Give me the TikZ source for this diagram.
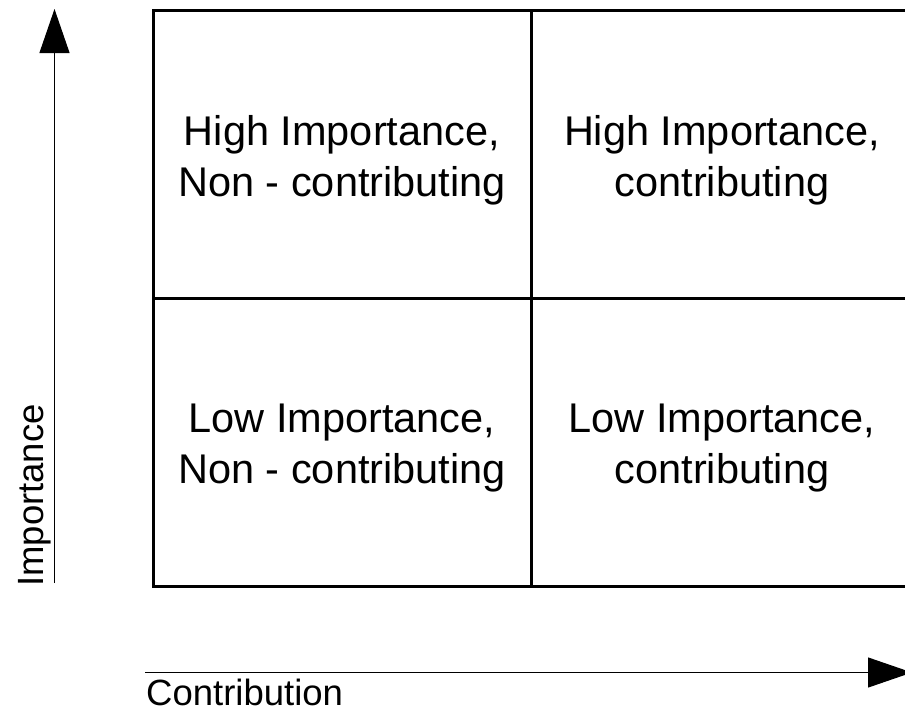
\documentclass[tikz,border=0pt]{standalone}
\usepackage{fontspec}
\setmainfont{Liberation Sans}
\usetikzlibrary{arrows.meta}
\begin{document}
\begin{tikzpicture}[x=1pt,y=-1pt,
  cell/.style={draw=black,line width=3pt,inner sep=0pt},
  celltext/.style={inner sep=0pt,align=center,
    font=\fontsize{41.5}{51}\selectfont},
  axislabel/.style={inner sep=0pt,font=\fontsize{36.5}{40}\selectfont},
  axisarrow/.style={draw=black,line width=1.1pt,-{Triangle[length=44pt,width=30pt]}}]
\path[clip] (0,0) rectangle (905,713);
\node[cell,minimum width=378pt,minimum height=288pt] (hn) at (342,154) {};
\node[cell,minimum width=382pt,minimum height=288pt] (hc) at (722,154) {};
\node[cell,minimum width=378pt,minimum height=288pt] (ln) at (342,442) {};
\node[cell,minimum width=382pt,minimum height=288pt] (lc) at (722,442) {};
\node[celltext] (thn) at ([yshift=-6.5pt]hn.center) {High Importance,\\Non - contributing};
\node[celltext] (thc) at ([yshift=-6.5pt]hc.center) {High Importance,\\contributing};
\node[celltext] (tln) at ([yshift=-6pt]ln.center) {Low Importance,\\Non - contributing};
\node[celltext] (tlc) at ([yshift=-6pt]lc.center) {Low Importance,\\contributing};
\coordinate (yb) at (54.5,583);
\coordinate (yt) at (54.5,9);
\coordinate (xb) at (145,672.5);
\coordinate (xt) at (912,672.5);
\draw[axisarrow] (yb) -- (yt);
\draw[axisarrow] (xb) -- (xt);
\node[axislabel,rotate=90,anchor=base west] (imp) at (43,587) {Importance};
\node[axislabel,anchor=base west] (con) at (146,705) {Contribution};
\end{tikzpicture}
\end{document}
